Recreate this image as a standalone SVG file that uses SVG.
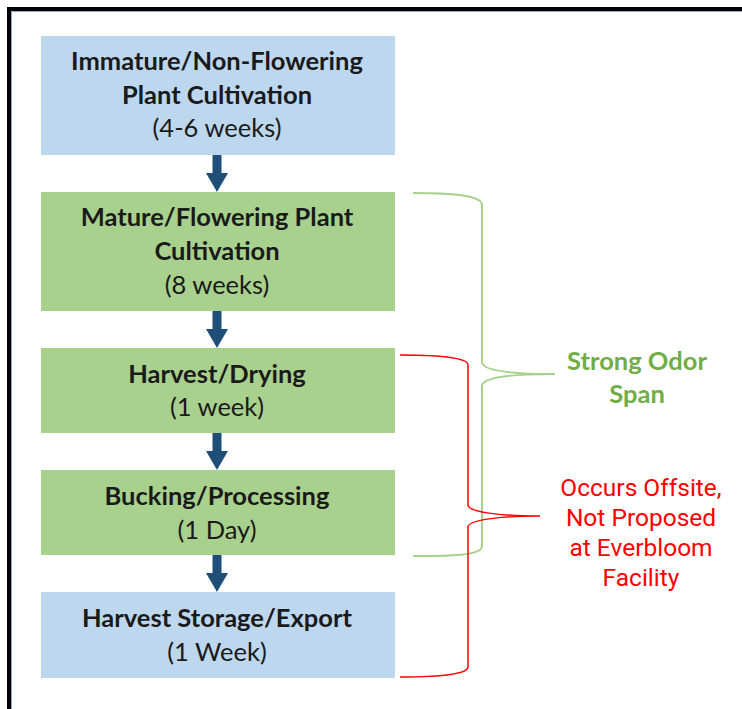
<svg xmlns="http://www.w3.org/2000/svg" width="742" height="709" viewBox="0 0 742 709">
<defs>
<style>
.blue{fill:#BDD7EE}
.green{fill:#A9D18E}
.t{font-family:Lato,"Open Sans",sans-serif;font-size:25.5px;fill:#1a1a1a;text-anchor:middle}
.b{font-weight:bold}
.arr{fill:#1F4E79}
.gl{fill:none;stroke:#A9D18E;stroke-width:2}
.rl{fill:none;stroke:#FF0000;stroke-width:1.5}
.gt{font-family:Lato,"Open Sans",sans-serif;font-weight:bold;font-size:25.5px;fill:#70AD47;text-anchor:middle}
.rt{font-family:Roboto,"Liberation Sans",sans-serif;font-size:24.5px;fill:#FF0000;text-anchor:middle}
</style>
</defs>
<rect width="742" height="709" fill="#ffffff"/>
<path d="M9,709 V9 H742" fill="none" stroke="#000" stroke-width="4"/>
<path d="M11.5,709 V11.5 H742" fill="none" stroke="#8DA9C4" stroke-width="1"/>

<g id="node1">
<rect class="blue" x="41" y="36" width="354" height="119"/>
<text class="t b" x="217" y="70">Immature/Non-Flowering</text>
<text class="t b" x="217" y="104">Plant Cultivation</text>
<text class="t" x="217" y="137">(4-6 weeks)</text>
</g>
<g id="node2">
<rect class="green" x="41" y="192" width="354" height="119"/>
<text class="t b" x="217" y="226">Mature/Flowering Plant</text>
<text class="t b" x="217" y="260">Cultivation</text>
<text class="t" x="217" y="294">(8 weeks)</text>
</g>
<g id="node3">
<rect class="green" x="41" y="348" width="354" height="85"/>
<text class="t b" x="217" y="383">Harvest/Drying</text>
<text class="t" x="217" y="416">(1 week)</text>
</g>
<g id="node4">
<rect class="green" x="41" y="470" width="354" height="85"/>
<text class="t b" x="217" y="505">Bucking/Processing</text>
<text class="t" x="217" y="539">(1 Day)</text>
</g>
<g id="node5">
<rect class="blue" x="41" y="592" width="354" height="86"/>
<text class="t b" x="217" y="627">Harvest Storage/Export</text>
<text class="t" x="217" y="661">(1 Week)</text>
</g>

<g id="connectors">
<path class="arr" d="M212.5,155 H221.5 V173 H228 L217,192 L206,173 H212.5 Z"/>
<path class="arr" d="M212.5,311 H221.5 V329 H228 L217,348 L206,329 H212.5 Z"/>
<path class="arr" d="M212.5,433 H221.5 V451 H228 L217,470 L206,451 H212.5 Z"/>
<path class="arr" d="M212.5,555 H221.5 V573 H228 L217,592 L206,573 H212.5 Z"/>
</g>

<g id="odor-bracket">
<path class="gl" d="M413,193 C450,193 482,195 482,205 V362 C482,372 520,374 555,374 C520,374 482,376 482,386 V546 C482,556 450,556 413,556"/>
<text class="gt" x="637" y="370">Strong Odor</text>
<text class="gt" x="637" y="403">Span</text>
</g>

<g id="offsite-bracket">
<path class="rl" d="M400,355 C440,355 468,358 468,365 V505 C468,512 500,516 540,516 C500,516 468,520 468,527 V667 C468,674 440,677 400,677"/>
<text class="rt" x="641" y="496">Occurs Offsite,</text>
<text class="rt" x="641" y="526">Not Proposed</text>
<text class="rt" x="641" y="556">at Everbloom</text>
<text class="rt" x="641" y="586">Facility</text>
</g>
</svg>
